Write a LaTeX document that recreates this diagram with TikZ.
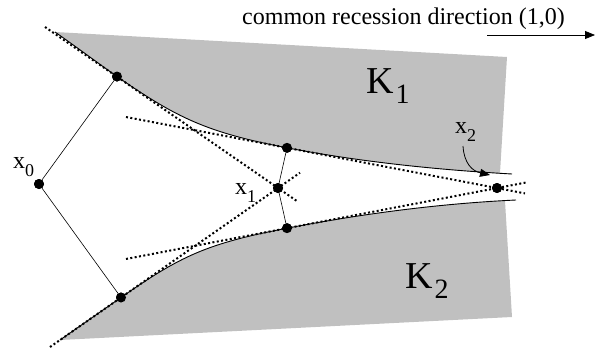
\documentclass[tikz,border=0pt]{standalone}
\usepackage{fontspec}
\setmainfont{Liberation Serif}
\usetikzlibrary{arrows.meta,calc}
\usepackage{xcolor}
\definecolor{setfill}{HTML}{C0C0C0}
\newcommand{\ptlabel}[2]{\fontsize{24}{24}\selectfont #1\raisebox{-8pt}{\fontsize{18}{18}\selectfont #2}}
\newcommand{\setlabel}[2]{\fontsize{38}{38}\selectfont #1\kern2pt\raisebox{-10pt}{\fontsize{28}{28}\selectfont #2}}

\begin{document}
\begin{tikzpicture}[
  x=1pt, y=-1pt,
  pt/.style={circle, fill=black, inner sep=0pt, minimum size=10pt},
  setbox/.style={fill=setfill, draw=none},
  edge/.style={line width=0.9pt},
  link/.style={line width=0.6pt},
  tangent/.style={line width=2pt, dash pattern=on 2pt off 2.4pt},
  lab/.style={inner sep=0pt, anchor=base west},
  flow/.style={-{Triangle[length=10pt,width=8pt]}, line width=0.8pt},
]
\useasboundingbox (0,0) rectangle (595,348);

\coordinate (k1s) at (55,32);
\coordinate (k1e) at (512,174);
\coordinate (k2s) at (60,340);
\coordinate (k2e) at (516,200);

\node[pt] (x0) at (39,184) {};
\node[pt] (p1) at (117,76.5) {};
\node[pt] (p2) at (121,297.5) {};
\node[pt] (x1) at (278,188) {};
\node[pt] (q1) at (287,147.8) {};
\node[pt] (q2) at (287,228.2) {};
\node[pt] (x2) at (497,188) {};

\fill[setbox] (k1s) -- (507,57) -- (500,173) -- (k1e)
  .. controls (440,170) and (362,162.2) .. (q1.center)
  .. controls (207,132.5) and (177,118) .. (p1.center)
  .. controls (100,64.7) and (80,49.5) .. (k1s);
\fill[setbox] (k2s) -- (512,317) -- (505,201) -- (k2e)
  .. controls (440,203.5) and (362,213.8) .. (q2.center)
  .. controls (207,243.5) and (181,255.7) .. (p2.center)
  .. controls (104,309.3) and (80,326) .. (k2s);

\draw[edge] (k1s) .. controls (80,49.5) and (100,64.7) .. (p1.center)
  .. controls (177,118) and (207,132.5) .. (q1.center)
  .. controls (362,162.2) and (440,170) .. (k1e);
\draw[edge] (k2s) .. controls (80,326) and (104,309.3) .. (p2.center)
  .. controls (181,255.7) and (207,243.5) .. (q2.center)
  .. controls (362,213.8) and (440,203.5) .. (k2e);

\coordinate (t1s) at (45,27);
\coordinate (t1e) at (298,201.8);
\coordinate (t2s) at (50,347);
\coordinate (t2e) at (300,172.7);
\coordinate (t3s) at (126,117);
\coordinate (t3e) at (525,193.4);
\coordinate (t4s) at (126,259);
\coordinate (t4e) at (526,182.5);

\foreach \a/\b in {t1s/t1e, t2s/t2e, t3s/t3e, t4s/t4e}
  \draw[tangent] (\a) -- (\b);

\foreach \a/\b in {x0/p1, x0/p2, x1/q1, x1/q2}
  \draw[link] (\a) -- (\b);

\foreach \n in {x0,p1,p2,x1,q1,q2,x2}
  \fill (\n) circle (5pt);

\node[lab] (lx0) at (13,168) {\ptlabel{x}{0}};
\node[lab] (lx1) at (235,194) {\ptlabel{x}{1}};
\node[lab] (lx2) at (455,133) {\ptlabel{x}{2}};
\node[lab] (lk1) at (366,93) {\setlabel{K}{1}};
\node[lab] (lk2) at (405,288) {\setlabel{K}{2}};

\coordinate (x2tail) at (463,146);
\coordinate (x2head) at (490,175);
\draw[flow] (x2tail) .. controls (464,163) and (472,171) .. (x2head);

\node[lab] (dir) at (242,24) {\fontsize{24}{24}\selectfont common recession direction (1,0)};
\coordinate (dirs) at (487,35);
\coordinate (dire) at (595,35);
\draw[flow] (dirs) -- (dire);
\end{tikzpicture}
\end{document}
